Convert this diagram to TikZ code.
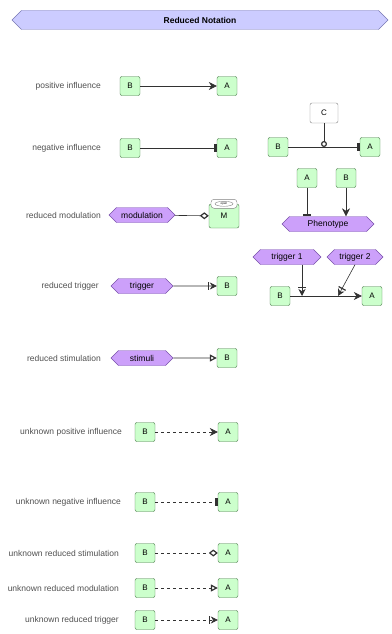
\documentclass[tikz,border=0pt]{standalone}
\usepackage{fontspec}
\setmainfont{Liberation Sans}
\usepackage{tikz}
\usetikzlibrary{positioning,shapes.symbols,shapes.geometric,arrows.meta}
\definecolor{protfill}{RGB}{204, 255, 204}
\definecolor{protdraw}{RGB}{70, 120, 70}
\definecolor{phenofill}{RGB}{204, 160, 250}
\definecolor{phenodraw}{RGB}{120, 80, 170}
\definecolor{titlefill}{RGB}{204, 204, 255}
\definecolor{titledraw}{RGB}{120, 120, 180}
\definecolor{darkgray}{RGB}{50, 50, 50}
\definecolor{lblgray}{RGB}{80, 80, 80}

\begin{document}
\begin{tikzpicture}[x=1pt, y=-1pt,
  prot/.style    = {rectangle, rounded corners=2pt, draw=protdraw, fill=protfill,
                    minimum width=20pt, minimum height=19pt, inner sep=0pt,
                    font=\fontsize{8}{9}\selectfont},
  pheno/.style   = {signal, signal to=west and east, draw=phenodraw, fill=phenofill,
                    minimum height=15pt, inner sep=1pt, font=\fontsize{8.5}{9}\selectfont},
  lbl/.style     = {anchor=east, font=\fontsize{8.5}{9}\selectfont, color=lblgray, inner sep=0pt},
  link/.style    = {draw=darkgray, line width=0.6pt},
  unk/.style     = {link, dash pattern=on 3pt off 3pt},
  posarr/.style  = {-{Stealth[length=8pt,width=8pt]}},
  negarr/.style  = {-{Bar[width=8pt,line width=2.5pt]}},
  modarr/.style  = {-{Diamond[open,length=9pt,width=7pt,line width=1.2pt]}},
  stimarr/.style = {-{Triangle[open,length=7pt,width=7pt,line width=1.2pt]}},
  trigarr/.style = {-{Bar[width=8pt,line width=1.2pt,sep=1pt] Stealth[length=7pt,width=7pt]}},
  cataarr/.style = {-{Circle[open,length=6pt,line width=1.2pt]}}
]
  \useasboundingbox (0,0) rectangle (391,634);

  % ---- title ----
  \node[signal, signal to=west and east, draw=titledraw, fill=titlefill,
        minimum width=376pt, minimum height=19pt, inner sep=0pt,
        font=\bfseries\fontsize{8.5}{9}\selectfont] (title) at (200,20) {Reduced Notation};

  % ---- left column: labels ----
  \node[lbl] (l1)  at (101,86)  {positive influence};
  \node[lbl] (l2)  at (101,148) {negative influence};
  \node[lbl] (l3)  at (101,215) {reduced modulation};
  \node[lbl] (l4)  at (99,286)  {reduced trigger};
  \node[lbl] (l5)  at (101,358) {reduced stimulation};
  \node[lbl] (l6)  at (122,432) {unknown positive influence};
  \node[lbl] (l7)  at (121,502) {unknown negative influence};
  \node[lbl] (l8)  at (119,553) {unknown reduced stimulation};
  \node[lbl] (l9)  at (119,588) {unknown reduced modulation};
  \node[lbl] (l10) at (119,620) {unknown reduced trigger};

  % ---- left column: nodes ----
  \node[prot] (b1) at (130,86)  {B};
  \node[prot] (a1) at (227,86)  {A};
  \node[prot] (b2) at (130,148) {B};
  \node[prot] (a2) at (227,148) {A};
  \node[pheno, minimum width=66pt] (modul) at (142,215) {modulation};
  \node[prot, minimum width=30pt, minimum height=24pt] (m3) at (224,216) {M};
  \node[pheno, minimum width=62pt] (trigr) at (142,286) {trigger};
  \node[prot] (b4) at (227,286) {B};
  \node[pheno, minimum width=62pt] (stimu) at (142,358) {stimuli};
  \node[prot] (b5) at (227,358) {B};
  \node[prot] (b6)  at (145,432) {B};
  \node[prot] (a6)  at (228,432) {A};
  \node[prot] (b7)  at (145,502) {B};
  \node[prot] (a7)  at (228,502) {A};
  \node[prot] (b8)  at (145,553) {B};
  \node[prot] (a8)  at (228,553) {A};
  \node[prot] (b9)  at (145,588) {B};
  \node[prot] (a9)  at (228,588) {A};
  \node[prot] (b10) at (145,620) {B};
  \node[prot] (a10) at (228,620) {A};

  % ---- state on top of M ----
  \node[rectangle, rounded corners=3pt, draw=gray, fill=white, minimum width=26pt,
        minimum height=9pt, inner sep=0pt] (mtop) at (m3.north) {};
  \node[ellipse, draw=gray, fill=white, minimum width=18pt, minimum height=5pt,
        inner sep=0pt, font=\fontsize{3}{3}\selectfont] (mstate) at (mtop) {open};

  % ---- left column: arrows ----
  \draw[link, posarr]  (b1) -- (a1);
  \draw[link, negarr]  (b2) -- (a2);
  \draw[link, modarr]  (modul) -- (m3);
  \draw[link, trigarr] (trigr) -- (b4);
  \draw[link, stimarr] (stimu) -- (b5);
  \draw[unk, posarr]   (b6) -- (a6);
  \draw[unk, negarr]   (b7) -- (a7);
  \draw[unk, modarr]   (b8) -- (a8);
  \draw[unk, stimarr]  (b9) -- (a9);
  \draw[unk, trigarr]  (b10) -- (a10);

  % ---- right column: catalysed influence ----
  \node[rectangle, rounded corners=2pt, draw=gray, fill=white, minimum width=28pt,
        minimum height=20pt, inner sep=0pt, font=\fontsize{8}{9}\selectfont] (c) at (324,113) {C};
  \node[prot] (rb1) at (278,147) {B};
  \node[prot] (ra1) at (370,147) {A};
  \coordinate (jc) at (c |- rb1);
  \draw[link, negarr]  (rb1) -- (ra1);
  \draw[link, cataarr] (c) -- (jc);

  % ---- right column: phenotype ----
  \node[prot] (ra2) at (307,178) {A};
  \node[prot] (rb2) at (346,178) {B};
  \node[pheno, minimum width=92pt] (pheno) at (328,224) {Phenotype};
  \draw[link, negarr] (ra2) -- (ra2 |- pheno.north);
  \draw[link, posarr] (rb2) -- (rb2 |- pheno.north);

  % ---- right column: triggers ----
  \node[pheno, minimum width=68pt] (trig1) at (287,257) {trigger 1};
  \node[pheno, minimum width=56pt] (trig2) at (355,257) {trigger 2};
  \node[prot] (rb3) at (280,296) {B};
  \node[prot] (ra3) at (372,296) {A};
  \coordinate (j1) at (302,296);
  \coordinate (j2) at (338,296);
  \draw[link, posarr]  (rb3) -- (ra3);
  \draw[link, trigarr] (trig1.south -| j1) -- (j1);
  \draw[link, trigarr] (trig2.south) -- (j2);
\end{tikzpicture}
\end{document}
